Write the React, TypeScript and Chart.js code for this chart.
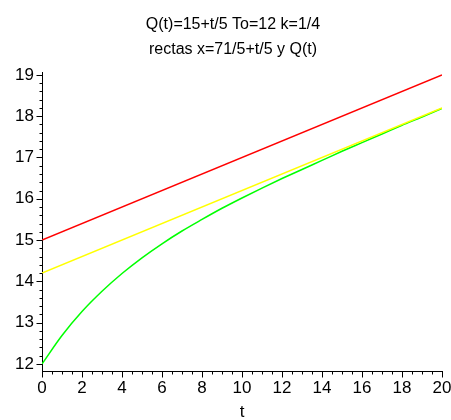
import React, { useEffect, useRef } from "react";
import { Chart, registerables } from "chart.js";

Chart.register(...registerables);

// Time samples (t) and the plotted curves
const tSamples = [0, 1, 2, 3, 4, 5, 6, 7, 8, 9, 10, 11, 12, 13, 14, 15, 16, 17, 18, 19, 20];
const temperature = [
  12.0, 12.69, 13.27, 13.76, 14.19, 14.57, 14.91, 15.22, 15.5, 15.77, 16.02,
  16.26, 16.49, 16.71, 16.93, 17.15, 17.36, 17.57, 17.78, 17.98, 18.19,
];
const lineEndsT = [0, 20];
const ambientQ = [15, 19];
const asymptoteX = [14.2, 18.2];

const titleLines = ["Q(t)=15+t/5 To=12 k=1/4", "rectas x=71/5+t/5 y Q(t)"];
const xAxisLabel = "t";

const FONT = "'Liberation Sans', Arial, sans-serif";

// Minor/major tick marks drawn outside the plot, Maple style
const tickMarks = {
  id: "tickMarks",
  afterDraw(chart: any) {
    const { ctx, chartArea, scales } = chart;
    const xs = scales.x;
    const ys = scales.y;
    ctx.save();
    ctx.strokeStyle = "#000";
    ctx.lineWidth = 1;
    ctx.beginPath();
    for (let i = 0; i <= 40; i++) {
      const v = i * 0.5;
      const px = Math.round(xs.getPixelForValue(v)) + 0.5;
      const len = i % 4 === 0 ? 6 : 3;
      const y0 = Math.round(chartArea.bottom) + 0.5;
      ctx.moveTo(px, y0);
      ctx.lineTo(px, y0 + len);
    }
    for (let i = 0; i <= 35; i++) {
      const v = 12 + i * 0.2;
      if (v > ys.max + 1e-9) break;
      const py = Math.round(ys.getPixelForValue(v)) + 0.5;
      const len = i % 5 === 0 ? 6 : 3;
      const x0 = Math.round(chartArea.left) + 0.5;
      ctx.moveTo(x0, py);
      ctx.lineTo(x0 - len, py);
    }
    ctx.stroke();

    // two-line title
    ctx.fillStyle = "#000";
    ctx.font = `16px ${FONT}`;
    ctx.textAlign = "center";
    ctx.textBaseline = "alphabetic";
    ctx.fillText(titleLines[0], 233, 29);
    ctx.fillText(titleLines[1], 233, 54);
    ctx.restore();
  },
};

export default function App() {
  const canvasRef = useRef<HTMLCanvasElement | null>(null);

  useEffect(() => {
    const canvas = canvasRef.current;
    if (!canvas) return;

    const toPoints = (xs: number[], ys: number[]) => xs.map((x, i) => ({ x, y: ys[i] }));

    const chart = new Chart(canvas, {
      type: "line",
      data: {
        datasets: [
          {
            data: toPoints(lineEndsT, ambientQ),
            borderColor: "#ff0000",
            borderWidth: 1.5,
            pointRadius: 0,
          },
          {
            data: toPoints(lineEndsT, asymptoteX),
            borderColor: "#ffff00",
            borderWidth: 1.5,
            pointRadius: 0,
          },
          {
            data: toPoints(tSamples, temperature),
            borderColor: "#00ff00",
            borderWidth: 1.5,
            pointRadius: 0,
            cubicInterpolationMode: "monotone",
          },
        ],
      },
      options: {
        responsive: false,
        animation: false,
        devicePixelRatio: 1,
        layout: { padding: { top: 72, right: 9, left: 0, bottom: 0 } },
        plugins: {
          legend: { display: false },
          tooltip: { enabled: false },
          title: { display: false },
        },
        scales: {
          x: {
            type: "linear",
            min: 0,
            max: 20,
            grid: { display: false, drawTicks: false },
            border: { display: true, color: "#000", width: 1 },
            ticks: {
              stepSize: 2,
              padding: 7,
              color: "#000",
              font: { family: FONT, size: 17 },
              maxRotation: 0,
            },
            title: {
              display: true,
              text: xAxisLabel,
              color: "#000",
              font: { family: FONT, size: 17 },
              padding: { top: 6, bottom: -3 },
            },
            afterFit(scale: any) {
              scale.height = 49;
              scale.paddingLeft = 0;
              scale.paddingRight = 0;
            },
          },
          y: {
            type: "linear",
            min: 11.83,
            max: 19.07,
            grid: { display: false, drawTicks: false },
            border: { display: true, color: "#000", width: 1 },
            ticks: {
              stepSize: 1,
              padding: 8,
              color: "#000",
              font: { family: FONT, size: 17 },
              callback: (v: any) => (Number.isInteger(v) ? String(v) : ""),
            },
            afterBuildTicks(scale: any) {
              scale.ticks = [12, 13, 14, 15, 16, 17, 18, 19].map((value) => ({ value }));
            },
            afterFit(scale: any) {
              scale.width = 42;
              scale.paddingTop = 0;
              scale.paddingBottom = 0;
            },
          },
        },
      },
      plugins: [tickMarks],
    });

    return () => chart.destroy();
  }, []);

  return (
    <div style={{ position: "absolute", left: 0, top: 0, width: 451, height: 420, background: "#fff" }}>
      <canvas ref={canvasRef} width={451} height={420} />
    </div>
  );
}
